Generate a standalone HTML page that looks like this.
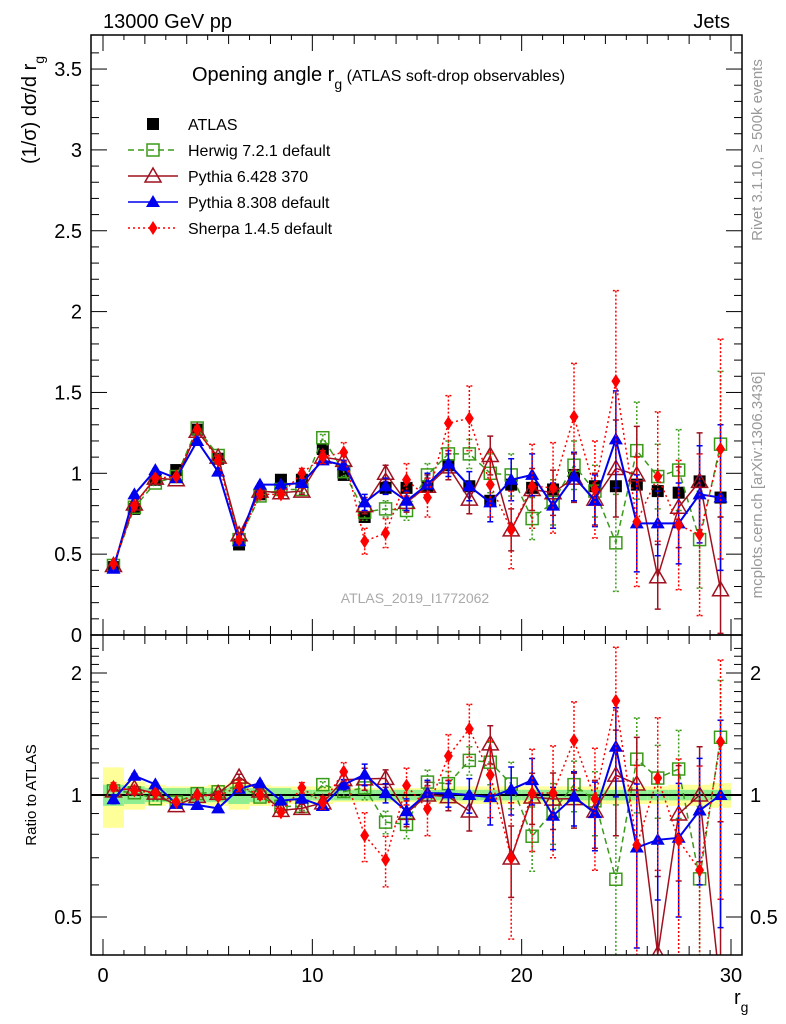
<!DOCTYPE html>
<html><head><meta charset="utf-8"><style>
html,body{margin:0;padding:0;background:#fff;width:786px;height:1024px;overflow:hidden;}
svg{display:block;font-family:"Liberation Sans",sans-serif;}
</style></head><body>
<svg id="chart" width="786" height="1024" viewBox="0 0 786 1024" xmlns="http://www.w3.org/2000/svg">
<rect width="786" height="1024" fill="#fff"/>
<g id="ratioBand"></g>
<g id="marks"></g>
<g id="axes"></g>
<text x="103" y="28" font-size="20">13000 GeV pp</text>
<text x="730" y="28" font-size="20" text-anchor="end">Jets</text>
<text x="192" y="81" font-size="20">Opening angle r<tspan font-size="14" dy="8">g</tspan><tspan font-size="16" dy="-8"> (ATLAS soft-drop observables)</tspan></text>
<text x="415" y="603" font-size="14" fill="#aaa" text-anchor="middle">ATLAS_2019_I1772062</text>
<text transform="translate(762,150) rotate(-90)" font-size="15" fill="#999" text-anchor="middle">Rivet 3.1.10, ≥ 500k events</text>
<text transform="translate(762,485) rotate(-90)" font-size="15" fill="#999" text-anchor="middle">mcplots.cern.ch [arXiv:1306.3436]</text>
<text transform="translate(36,110) rotate(-90)" font-size="20" text-anchor="middle">(1/σ) dσ/d r<tspan font-size="14" dy="8">g</tspan></text>
<text transform="translate(36,795) rotate(-90)" font-size="15" text-anchor="middle">Ratio to ATLAS</text>
<text x="734" y="1004" font-size="20">r<tspan font-size="14" dy="8">g</tspan></text>
<g id="legend"></g>
</svg>
<script>
const xs=[0.5,1.5,2.5,3.5,4.5,5.5,6.5,7.5,8.5,9.5,10.5,11.5,12.5,13.5,14.5,15.5,16.5,17.5,18.5,19.5,20.5,21.5,22.5,23.5,24.5,25.5,26.5,27.5,28.5,29.5];
const atlas=[0.42,0.78,0.96,1.02,1.27,1.09,0.56,0.87,0.96,0.96,1.15,0.99,0.73,0.91,0.91,0.92,1.05,0.92,0.83,0.93,0.91,0.90,0.99,0.92,0.92,0.93,0.89,0.88,0.95,0.85];
const herwig=[0.43,0.79,0.94,0.98,1.28,1.11,0.59,0.86,0.90,0.90,1.22,1.01,0.76,0.78,0.77,0.99,1.12,1.12,1.00,0.99,0.72,0.82,1.05,0.89,0.57,1.14,0.98,1.02,0.59,1.18];
const pythia6=[0.43,0.81,0.97,0.96,1.26,1.10,0.62,0.89,0.88,0.89,1.10,1.08,0.80,1.00,0.82,0.92,1.04,0.84,1.11,0.65,0.90,0.88,0.97,0.84,1.03,0.99,0.36,0.79,0.95,0.28];
const pythia8=[0.41,0.87,1.02,0.97,1.20,1.01,0.58,0.93,0.93,0.94,1.08,1.05,0.82,0.92,0.83,0.93,1.06,0.92,0.82,0.96,0.99,0.80,0.98,0.83,1.21,0.69,0.69,0.69,0.87,0.85];
const sherpa=[0.44,0.80,0.97,0.98,1.27,1.08,0.59,0.87,0.87,1.00,1.10,1.13,0.58,0.63,0.96,0.85,1.31,1.34,0.93,0.65,0.92,0.91,1.35,0.90,1.57,0.70,0.98,0.68,0.62,1.15];
const mcErr=[0.01,0.01,0.01,0.01,0.01,0.01,0.01,0.01,0.01,0.02,0.02,0.03,0.05,0.05,0.06,0.07,0.08,0.09,0.12,0.13,0.13,0.14,0.15,0.16,0.30,0.30,0.20,0.25,0.30,0.45];
const sherpaErr=[0.01,0.01,0.01,0.01,0.01,0.02,0.02,0.02,0.02,0.03,0.04,0.06,0.08,0.09,0.1,0.12,0.17,0.2,0.2,0.24,0.26,0.28,0.33,0.3,0.56,0.4,0.4,0.4,0.5,0.68];
const bandTot=[0.17,0.08,0.06,0.05,0.05,0.06,0.08,0.06,0.05,0.05,0.05,0.04,0.04,0.04,0.04,0.04,0.05,0.05,0.05,0.05,0.05,0.05,0.05,0.05,0.05,0.05,0.05,0.06,0.06,0.07];
const bandStat=[0.06,0.05,0.04,0.04,0.04,0.04,0.05,0.04,0.04,0.03,0.03,0.03,0.03,0.03,0.03,0.03,0.03,0.03,0.03,0.03,0.03,0.03,0.03,0.03,0.03,0.03,0.03,0.03,0.03,0.03];
const mainTicks=[0,0.5,1,1.5,2,2.5,3,3.5];
const ratioTicks=[0.5,1,2];
const xTicks=[0,10,20,30];

const NS="http://www.w3.org/2000/svg";
const L=91,R=742,MT=35,MB=635,RB=955;
const X=v=>103+v*(628/30);
const Y=v=>635-v*161.7;
const YR=v=>795-176*Math.log(v);
function mk(tag,attrs,parent){const e=document.createElementNS(NS,tag);for(const k in attrs)e.setAttribute(k,attrs[k]);parent.appendChild(e);return e;}
const svg=document.getElementById('chart');
const axes=document.getElementById('axes'),marks=document.getElementById('marks'),band=document.getElementById('ratioBand');
const clip=mk('clipPath',{id:'cm'},svg);mk('rect',{x:L,y:MT,width:R-L,height:MB-MT},clip);
const clip2=mk('clipPath',{id:'cr'},svg);mk('rect',{x:L,y:MB,width:R-L,height:RB-MB},clip2);
marks.setAttribute('clip-path','url(#cm)');
const rmarks=mk('g',{'clip-path':'url(#cr)'},svg);


svg.insertBefore(rmarks,axes);

xs.forEach((x,i)=>{
  const b1=mk('rect',{x:X(x-0.5),y:YR(1+bandTot[i]),width:X(1)-X(0),height:YR(1-bandTot[i])-YR(1+bandTot[i]),fill:'#ffff99'},band);
  
  
  const b2=mk('rect',{x:X(x-0.5),y:YR(1+bandStat[i]),width:X(1)-X(0),height:YR(1-bandStat[i])-YR(1+bandStat[i]),fill:'#90ee90'},band);
  
  
});
const ln=mk('line',{x1:L,x2:R,y1:YR(1),y2:YR(1),stroke:'#000','stroke-width':2},band);



function marker(type,cx,cy,color,parent){
  let e;
  if(type==='sq') e=mk('rect',{x:cx-6,y:cy-6,width:12,height:12,fill:'#000'},parent);
  else if(type==='osq') e=mk('rect',{x:cx-6,y:cy-6,width:12,height:12,fill:'none',stroke:color,'stroke-width':1.5},parent);
  else if(type==='otri') e=mk('polygon',{points:`${cx},${cy-8} ${cx-8},${cy+6} ${cx+8},${cy+6}`,fill:'none',stroke:color,'stroke-width':1.5},parent);
  else if(type==='tri') e=mk('polygon',{points:`${cx},${cy-7} ${cx-7},${cy+5} ${cx+7},${cy+5}`,fill:color},parent);
  else e=mk('polygon',{points:`${cx},${cy-7} ${cx-4.5},${cy} ${cx},${cy+7} ${cx+4.5},${cy}`,fill:color},parent);
  return e;
}
const series=[
 {name:'herwig',vals:herwig,err:mcErr,color:'#3a9a1a',dash:'6,4',m:'osq',w:1.5},
 {name:'pythia6',vals:pythia6,err:mcErr,color:'#a0101e',dash:'',m:'otri',w:1.5},
 {name:'pythia8',vals:pythia8,err:mcErr,color:'#0000ee',dash:'',m:'tri',w:2},
 {name:'sherpa',vals:sherpa,err:sherpaErr,color:'#ff0000',dash:'2,3',m:'dia',w:1.5},
];
function drawSeries(s,yf,ratio,parent){
  const g=mk('g',{},parent);
  
  
  const pts=xs.map((x,i)=>{const v=ratio?s.vals[i]/atlas[i]:s.vals[i];return [X(x),yf(v)];});
  const pl=mk('polyline',{points:pts.map(p=>p.join(',')).join(' '),fill:'none',stroke:s.color,'stroke-width':s.w,'stroke-dasharray':s.dash},g);
  
  
  xs.forEach((x,i)=>{
    const v=s.vals[i],e=s.err[i],d=ratio?atlas[i]:1;
    const y1=yf(Math.max((v+e)/d,0.01)),y2=yf(Math.max((v-e)/d,0.01));
    const eb=mk('path',{d:`M${X(x)},${y1}V${y2}M${X(x)-3},${y1}H${X(x)+3}M${X(x)-3},${y2}H${X(x)+3}`,stroke:s.color,'stroke-width':1.5,'stroke-dasharray':s.dash?'2,2':'',fill:'none'},g);
    
    
    const m=marker(s.m,pts[i][0],pts[i][1],s.color,g);
    
    
  });
}
xs.forEach((x,i)=>{
  const m=marker('sq',X(x),Y(atlas[i]),'#000',marks);
  
  
});
series.forEach(s=>{drawSeries(s,Y,false,marks);drawSeries(s,YR,true,rmarks);});

function line(x1,y1,x2,y2,w){return mk('line',{x1,y1,x2,y2,stroke:'#000','stroke-width':w||1},axes);}
const f1=mk('rect',{x:L,y:MT,width:R-L,height:MB-MT,fill:'none',stroke:'#000','stroke-width':1.5},axes);


const f2=mk('rect',{x:L,y:MB,width:R-L,height:RB-MB,fill:'none',stroke:'#000','stroke-width':1.5},axes);


for(let v=0;v<=3.7;v+=0.1){const y=Y(v);if(y<MT)break;const maj=Math.abs(v*2-Math.round(v*2))<1e-6;const l=maj?16:8;line(L,y,L+l,y);line(R,y,R-l,y);}
mainTicks.forEach(v=>{const t=mk('text',{x:82,y:Y(v)+7,'font-size':20,'text-anchor':'end'},axes);t.textContent=String(v);
 
 });
for(let v=0.5;v<=2.4;v+=0.1){const vv=Math.round(v*10)/10;const y=YR(vv);const maj=[0.5,1,2].includes(vv);const l=maj?16:8;line(L,y,L+l,y);line(R,y,R-l,y);}
ratioTicks.forEach(v=>{[[82,'end'],[750,'start']].forEach(([x,a])=>{const t=mk('text',{x,y:YR(v)+7,'font-size':20,'text-anchor':a},axes);t.textContent=String(v);
 
 });});
for(let v=0;v<=31;v+=1){const x=X(v);if(x>R)break;const maj=v%10===0;const l=maj?16:(v%2===0?9:5);
 [MT,MB].forEach(y=>line(x,y,x,y+l));[MB,RB].forEach(y=>line(x,y,x,y-l));}
xTicks.forEach(v=>{const t=mk('text',{x:X(v),y:982,'font-size':20,'text-anchor':'middle'},axes);t.textContent=String(v);
 
 });

const lg=document.getElementById('legend');
const items=[{lab:'ATLAS',m:'sq',color:'#000',dash:null},
 {lab:'Herwig 7.2.1 default',m:'osq',color:'#3a9a1a',dash:'6,4'},
 {lab:'Pythia 6.428 370',m:'otri',color:'#a0101e',dash:''},
 {lab:'Pythia 8.308 default',m:'tri',color:'#0000ee',dash:''},
 {lab:'Sherpa 1.4.5 default',m:'dia',color:'#ff0000',dash:'2,3'}];
items.forEach((it,i)=>{
  const y=124+i*26;
  const g=mk('g',{},lg);
  
  
  if(it.dash!==null) mk('line',{x1:128,x2:178,y1:y,y2:y,stroke:it.color,'stroke-width':1.5,'stroke-dasharray':it.dash},g);
  marker(it.m,153,y,it.color,g);
  const t=mk('text',{x:188,y:y+6,'font-size':16},g);t.textContent=it.lab;
});
</script>
</body></html>
